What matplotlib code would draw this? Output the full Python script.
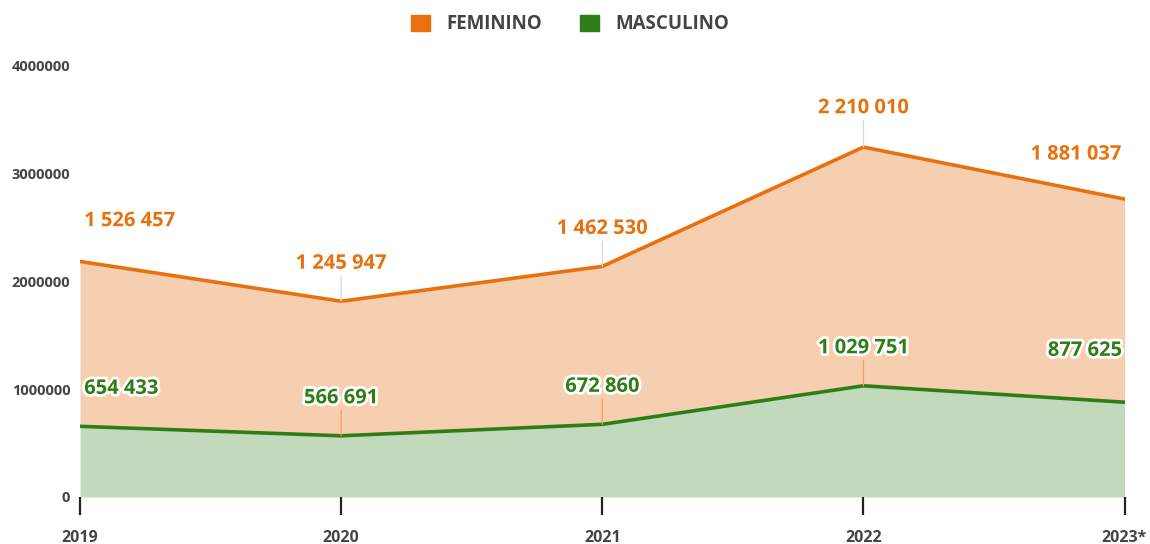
import matplotlib
matplotlib.use("Agg")
import matplotlib.pyplot as plt
import matplotlib.patheffects as pe
from matplotlib.patches import Patch
import numpy as np

years = ["2019", "2020", "2021", "2022", "2023*"]
masculino = [654433, 566691, 672860, 1029751, 877625]
feminino = [1526457, 1245947, 1462530, 2210010, 1881037]
y_ticks = [0, 1000000, 2000000, 3000000, 4000000]

ORANGE = "#E8700E"
ORANGE_FILL = "#F6CEB0"
GREEN = "#2F7D16"
GREEN_FILL = "#C3D9BC"
TEXT = "#444444"

plt.rcParams["font.family"] = ["Open Sans", "DejaVu Sans"]

fig = plt.figure(figsize=(11.5, 5.44), dpi=100)
ax = fig.add_axes([0.0696, 0.0864, 0.9083, 0.7941])

x = np.arange(len(years))
masc = np.array(masculino, dtype=float)
total = masc + np.array(feminino, dtype=float)

ax.fill_between(x, 0, masc, color=GREEN_FILL, linewidth=0, zorder=1)
ax.fill_between(x, masc, total, color=ORANGE_FILL, linewidth=0, zorder=1)
ax.plot(x, total, color=ORANGE, linewidth=2.6, zorder=3, solid_joinstyle="miter")
ax.plot(x, masc, color=GREEN, linewidth=2.6, zorder=3, solid_joinstyle="miter")

ax.set_xlim(0, len(years) - 1)
ax.set_ylim(0, 4000000)
ax.set_yticks(y_ticks)
ax.set_yticklabels([str(v) for v in y_ticks])
ax.set_xticks(x)
ax.set_xticklabels(years)

for s in ax.spines.values():
    s.set_visible(False)
ax.tick_params(axis="y", length=0, pad=7, labelsize=10.5, labelcolor=TEXT)
ax.tick_params(axis="x", length=13, width=1.6, color="#222222", direction="out",
               pad=11, labelsize=11.5, labelcolor=TEXT)
for lbl in ax.get_xticklabels() + ax.get_yticklabels():
    lbl.set_fontweight("bold")


def fmt(v):
    return f"{v:,}".replace(",", " ")


def label(xi, yv, value, color, lead_color, dy):
    n = len(years)
    ha = "left" if xi == 0 else ("right" if xi == n - 1 else "center")
    dx = 3 if xi == 0 else (-2 if xi == n - 1 else 0)
    ax.annotate(fmt(value), xy=(xi, yv), xytext=(dx, dy), textcoords="offset points",
                ha=ha, va="center", fontsize=14.5, fontweight="bold", color=color,
                zorder=5,
                path_effects=[pe.withStroke(linewidth=4, foreground="white")])
    if 0 < xi < n - 1:
        ax.annotate("", xy=(xi, yv), xytext=(0, dy - 9), textcoords="offset points",
                    arrowprops=dict(arrowstyle="-", color=lead_color, lw=0.9,
                                    shrinkA=0, shrinkB=0), zorder=4)


fem_dy = [29, 27, 27, 28, 32]
masc_dy = [27, 27, 27, 27, 37]
for i in range(len(years)):
    label(i, total[i], feminino[i], ORANGE, "#D8D8D8", fem_dy[i])
    label(i, masc[i], masculino[i], GREEN, "#F0A060", masc_dy[i])

handles = [Patch(facecolor=ORANGE, edgecolor=ORANGE, label="FEMININO"),
           Patch(facecolor=GREEN, edgecolor=GREEN, label="MASCULINO")]
leg = fig.legend(handles=handles, loc="center", bbox_to_anchor=(0.496, 0.955), ncol=2,
                 frameon=False, handlelength=1.0, handleheight=1.0, handletextpad=0.9,
                 columnspacing=2.0,
                 prop={"weight": "bold", "size": 13.5})
for t in leg.get_texts():
    t.set_color(TEXT)

fig.savefig("out.png", dpi=100)
